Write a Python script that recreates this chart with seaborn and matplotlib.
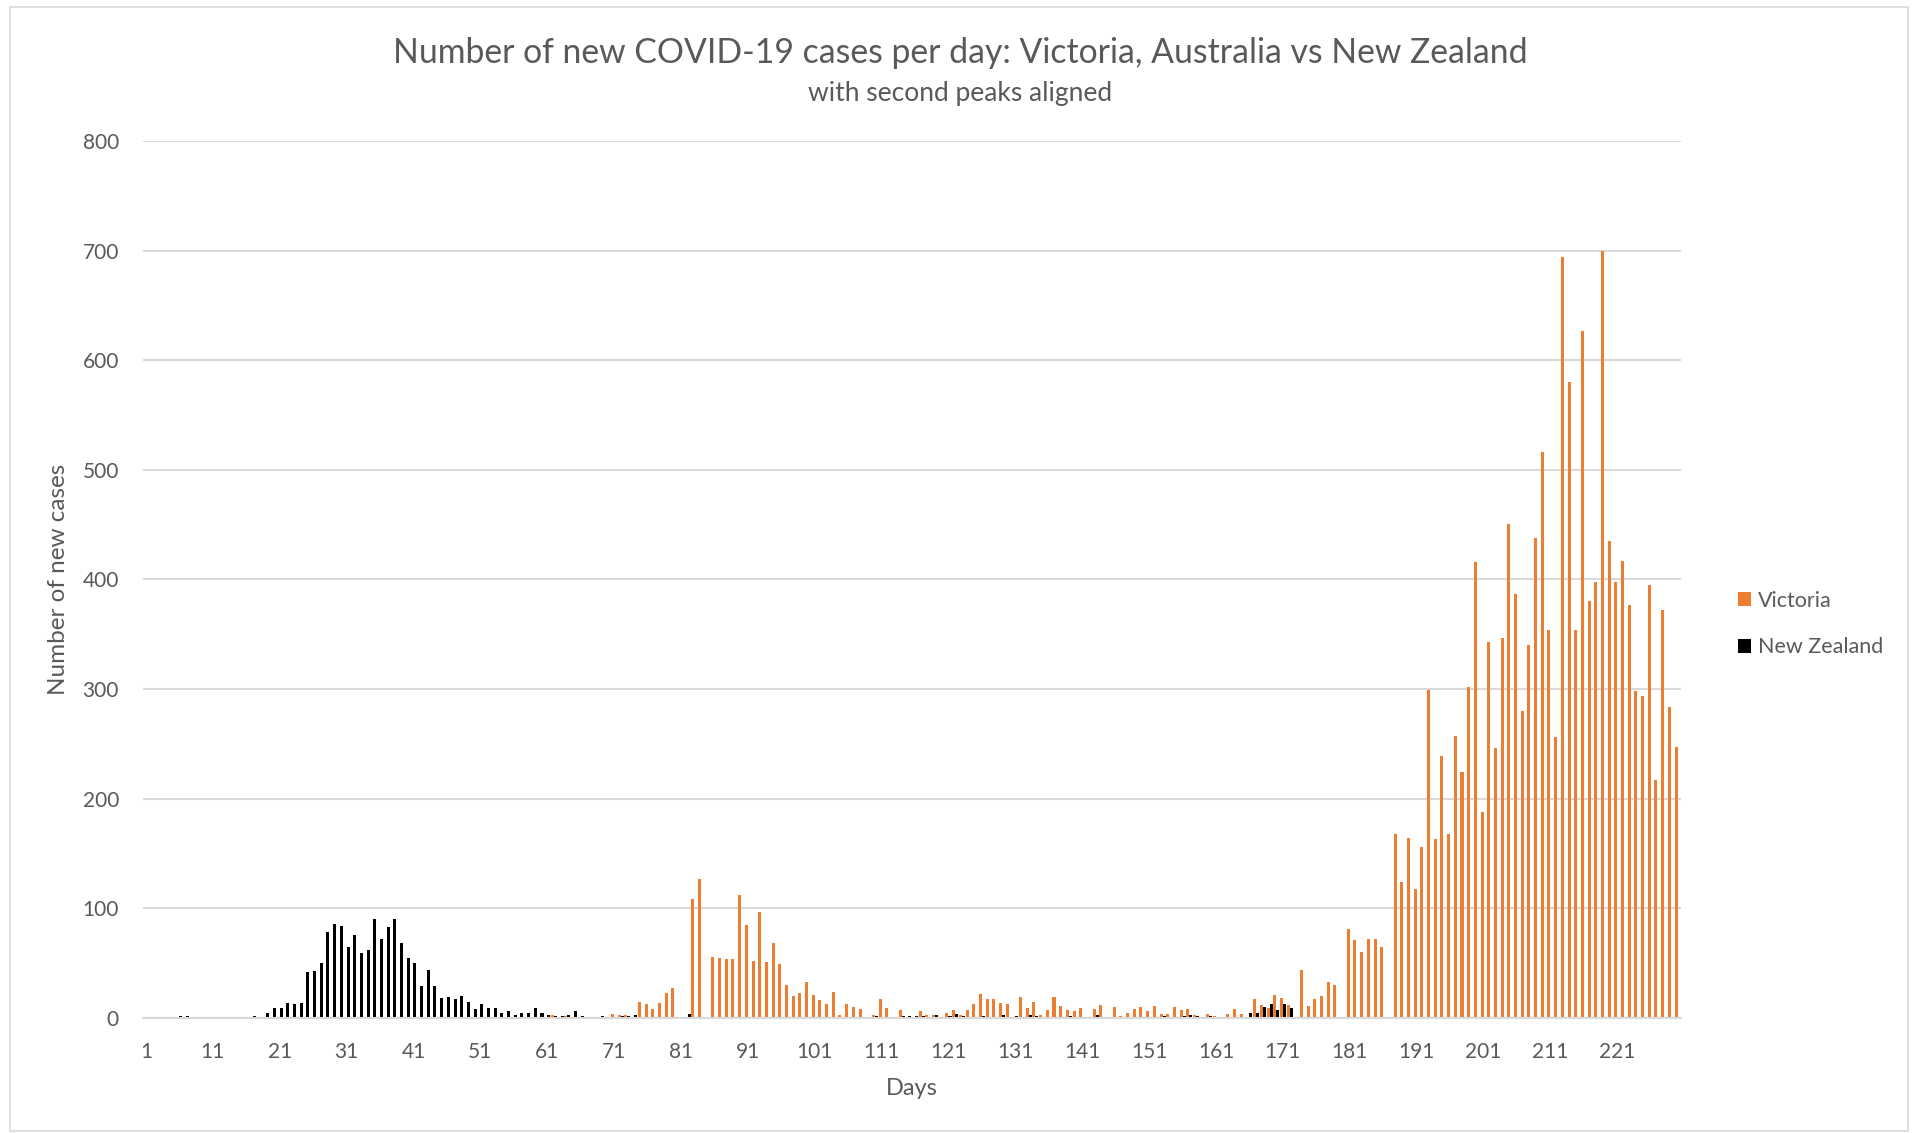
import numpy as np
import pandas as pd
import matplotlib
matplotlib.use('Agg')
import matplotlib.pyplot as plt
import seaborn as sns
from matplotlib.patches import Rectangle

# daily new cases, day 1..230
days = list(range(1, 231))

victoria = [0] * 27 + [1, 0, 0, 0, 1, 1, 1] + [0] * 27 + [
    3, 0, 2, 0, 1, 0, 0, 1, 0,                      # 62-70
    4, 3, 3, 0, 15, 13, 8, 14, 23, 27,              # 71-80
    0, 0, 109, 127, 0, 56, 55, 54, 54, 112,         # 81-90
    85, 52, 97, 51, 68, 49, 30, 20, 23, 33,         # 91-100
    21, 16, 13, 24, 3, 13, 10, 8, 0, 3,             # 101-110
    17, 9, 1, 7, 0, 1, 6, 3, 3, 0,                  # 111-120
    5, 7, 3, 7, 13, 22, 17, 17, 14, 13,             # 121-130
    0, 19, 9, 15, 3, 7, 19, 11, 7, 6,               # 131-140
    9, 0, 8, 12, 0, 10, 2, 5, 8, 10,                # 141-150
    6, 11, 4, 4, 10, 7, 8, 3, 0, 4,                 # 151-160
    2, 0, 4, 8, 4, 0, 17, 12, 9, 21,                # 161-170
    18, 12, 0, 44, 11, 17, 20, 33, 30, 0,           # 171-180
    81, 71, 60, 72, 72, 65, 0, 168, 124, 164,       # 181-190
    118, 156, 299, 163, 239, 168, 257, 224, 302, 416,   # 191-200
    188, 343, 246, 347, 451, 387, 280, 340, 438, 516,   # 201-210
    354, 256, 694, 580, 354, 627, 380, 398, 700, 435,   # 211-220
    398, 417, 377, 298, 294, 395, 217, 372, 284, 247,   # 221-230
]

new_zealand = [
    1, 0, 0, 0, 0, 2, 2, 1, 1, 0,                   # 1-10
    0, 0, 0, 0, 0, 1, 2, 0, 5, 9,                   # 11-20
    9, 14, 13, 14, 42, 43, 50, 78, 86, 84,          # 21-30
    65, 76, 59, 62, 90, 72, 83, 90, 68, 55,         # 31-40
    50, 29, 44, 29, 18, 19, 17, 20, 15, 8,          # 41-50
    13, 9, 9, 5, 6, 3, 5, 5, 9, 5,                  # 51-60
    3, 2, 2, 3, 6, 2, 0, 0, 2, 1,                   # 61-70
    1, 2, 2, 3, 0, 0, 0, 1, 0, 1,                   # 71-80
    0, 4, 0, 0, 1, 0, 0, 0, 0, 0,                   # 81-90
] + [0] * 19 + [
    2, 0, 1, 0, 2, 2, 2, 2, 1, 3, 1,                # 110-120
    2, 4, 2, 0, 0, 2, 0, 0, 3, 1,                   # 121-130
    2, 1, 3, 2, 1, 0, 0, 1, 2, 1,                   # 131-140
    1, 1, 3, 1, 1, 0, 0, 1, 0, 0,                   # 141-150
    0, 1, 2, 1, 0, 2, 3, 2, 0, 2,                   # 151-160
    0, 0, 0, 0, 0, 5, 5, 10, 13, 7,                 # 161-170
    13, 9,                                          # 171-172
] + [0] * 58

regions = ['Victoria', 'New Zealand']
colors = ['#ED7D31', '#000000']
yticks = list(range(0, 801, 100))

df = pd.DataFrame({
    'day': days * 2,
    'cases': victoria + new_zealand,
    'region': ['Victoria'] * len(days) + ['New Zealand'] * len(days),
})

sns.set_theme(style='white')
plt.rcParams['font.family'] = ['Lato', 'DejaVu Sans']
grey = '#595959'

fig = plt.figure(figsize=(19.21, 11.33), dpi=100)
ax = fig.add_axes([0.0742, 0.1015, 0.8008, 0.7741])

sns.barplot(data=df, x='day', y='cases', hue='region', hue_order=regions,
            palette=colors, errorbar=None, width=0.9, linewidth=0,
            saturation=1, ax=ax)

ax.set_xlim(-0.5, len(days) - 0.5)
ax.set_ylim(0, 800)
ax.set_yticks(yticks)
ax.set_yticklabels([str(v) for v in yticks])
ax.set_xticks(range(0, len(days), 10))
ax.set_xticklabels([str(d) for d in days[::10]])
ax.yaxis.grid(True, color='#d9d9d9', linewidth=1.5)
ax.set_axisbelow(True)
for s in ['top', 'right', 'left']:
    ax.spines[s].set_visible(False)
ax.spines['bottom'].set_color('#d9d9d9')
ax.spines['bottom'].set_linewidth(1.5)
ax.tick_params(axis='y', length=0, pad=17, labelsize=15, labelcolor=grey)
ax.tick_params(axis='x', length=0, pad=17, labelsize=15, labelcolor=grey)

ax.set_xlabel('Days', fontsize=17, color=grey, labelpad=12)
ax.set_ylabel('Number of new cases', fontsize=17.5, color=grey, labelpad=10)

fig.text(0.5, 1 - 53 / 1133, 'Number of new COVID-19 cases per day: Victoria, Australia vs New Zealand',
         ha='center', va='center', fontsize=24.3, color=grey)
fig.text(0.5, 1 - 94 / 1133, 'with second peaks aligned',
         ha='center', va='center', fontsize=19, color=grey)

ax.legend(title=None, frameon=False, loc='center left',
          bbox_to_anchor=(1719 / 1921, 1 - 624 / 1133), bbox_transform=fig.transFigure,
          handlelength=0.6, handleheight=0.6, handletextpad=0.3, labelspacing=1.25,
          fontsize=15.5, labelcolor=grey)

fig.patches.append(Rectangle((10 / 1921, 2 / 1133), 1898 / 1921, 1124 / 1133,
                             transform=fig.transFigure, fill=False,
                             edgecolor='#d9d9d9', linewidth=1.2))

fig.savefig('out.png', dpi=100)
